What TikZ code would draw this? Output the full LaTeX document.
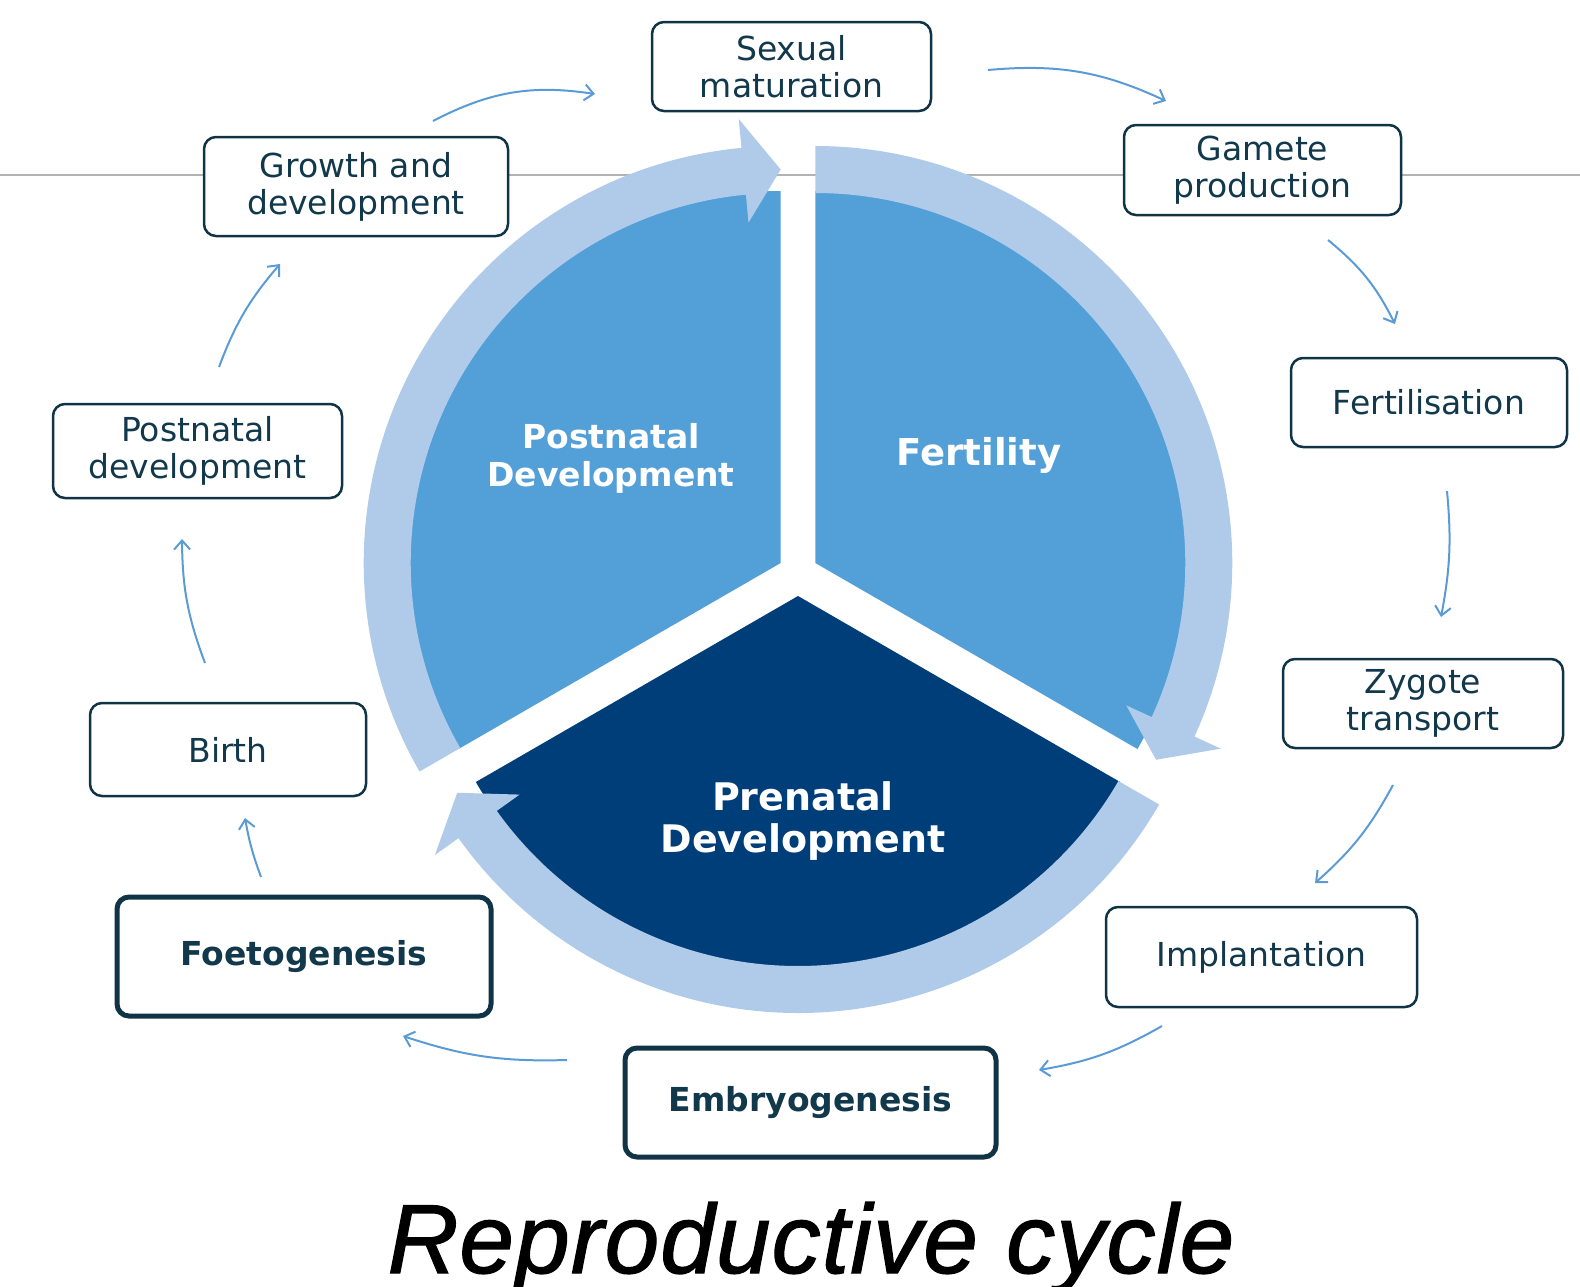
\documentclass[tikz,border=0pt]{standalone}
\usepackage{fontspec}
\setmainfont{DejaVu Sans}
\newfontfamily\titlefont[LetterSpace=1.2, ItalicFeatures={FakeBold=1.3}]{Liberation Sans}
\usetikzlibrary{arrows.meta}

\definecolor{ringblue}{RGB}{175,203,233}
\definecolor{midblue}{RGB}{83,159,215}
\definecolor{navy}{RGB}{0,62,122}
\definecolor{boxline}{RGB}{16,52,70}
\definecolor{boxtext}{RGB}{18,56,76}
\definecolor{linkblue}{RGB}{91,155,213}
\definecolor{rulegray}{RGB}{178,178,178}

% One exploded slice of the cycle: filled pie plus a curved band ending in an arrow head.
% #1 centre, #2/#3 pie angles, #4 pie colour, #5 band start, #6 head base, #7 head tip
\newcommand\cycpiece[7]{%
  \begin{scope}[shift={#1}]
    \fill[#4] (0,0) -- (#2:372) arc[start angle=#2, end angle=#3, radius=372] -- cycle;
    \fill[ringblue] (#5:417) arc[start angle=#5, end angle=#6, radius=417]
      -- (#6:446) -- (#7:393.5) -- (#6:342) -- (#6:370)
      arc[start angle=#6, end angle=#5, radius=370] -- cycle;
  \end{scope}}

\begin{document}
\begin{tikzpicture}[x=1pt, y=1pt,
  stage/.style={draw=boxline, line width=2.5pt, rounded corners=12pt, fill=white,
    text=boxtext, align=center, inner sep=0pt,
    font=\fontsize{33}{37}\selectfont},
  keystage/.style={stage, line width=5pt, font=\fontsize{33}{37}\selectfont\bfseries},
  link/.style={draw=linkblue, line width=2pt,
    -{Straight Barb[length=9pt, width=16pt, line width=2pt]}},
  sectorlabel/.style={text=white, align=center}]

\useasboundingbox (0,0) rectangle (1580,-1286);

% faint horizontal rule behind everything
\draw[rulegray, line width=1.5pt] (0,-175) -- (1580,-175);

% the three slices
\cycpiece{(780.7,-563)}{90}{210}{midblue}{210}{95.4}{90}
\cycpiece{(815.3,-563)}{-30}{90}{midblue}{90}{-24.6}{-30}
\cycpiece{(798,-596)}{210}{330}{navy}{330}{215.5}{210}

% slice captions
\node[sectorlabel, font=\bfseries\fontsize{33}{38}\selectfont] (lpost) at (611,-458) {Postnatal\\Development};
\node[sectorlabel, font=\bfseries\fontsize{37}{40}\selectfont] (lfert) at (979,-455) {Fertility};
\node[sectorlabel, font=\bfseries\fontsize{38}{42}\selectfont] (lpre) at (803,-821) {Prenatal\\Development};

% stages around the cycle
\node[stage, minimum width=279, minimum height=89] (sexual) at (791.5,-66.5) {Sexual\\maturation};
\node[stage, minimum width=277, minimum height=90] (gamete) at (1262.5,-170) {Gamete\\production};
\node[stage, minimum width=276, minimum height=89] (fertil) at (1429,-402.5) {Fertilisation};
\node[stage, minimum width=280, minimum height=89] (zygote) at (1423,-703.5) {Zygote\\transport};
\node[stage, minimum width=311, minimum height=100] (implant) at (1261.5,-957) {Implantation};
\node[keystage, minimum width=371, minimum height=109] (embryo) at (810.5,-1102.5) {Embryogenesis};
\node[keystage, minimum width=374, minimum height=119] (foeto) at (304,-956.5) {Foetogenesis};
\node[stage, minimum width=276, minimum height=93] (birth) at (228,-749.5) {Birth};
\node[stage, minimum width=289, minimum height=94] (postdev) at (197.5,-451) {Postnatal\\development};
\node[stage, minimum width=304, minimum height=99] (growth) at (356,-186.5) {Growth and\\development};

% ends of the small linking arrows
\coordinate (l1a) at (433,-121);  \coordinate (l1b) at (595,-94);
\coordinate (l2a) at (988,-70);   \coordinate (l2b) at (1166,-101);
\coordinate (l3a) at (1328,-240); \coordinate (l3b) at (1395,-324);
\coordinate (l4a) at (1447,-491); \coordinate (l4b) at (1441,-617);
\coordinate (l5a) at (1393,-785); \coordinate (l5b) at (1315,-883);
\coordinate (l6a) at (1162,-1026);\coordinate (l6b) at (1039,-1070);
\coordinate (l7a) at (567,-1060); \coordinate (l7b) at (403,-1036);
\coordinate (l8a) at (261,-877);  \coordinate (l8b) at (245,-818);
\coordinate (l9a) at (205,-663);  \coordinate (l9b) at (182,-539);
\coordinate (l10a) at (219,-367); \coordinate (l10b) at (280,-264);

\draw[link] (l1a) to[bend left=18] (l1b);
\draw[link] (l2a) to[bend left=15] (l2b);
\draw[link] (l3a) to[bend left=12] (l3b);
\draw[link] (l4a) to[bend left=8] (l4b);
\draw[link] (l5a) to[bend left=10] (l5b);
\draw[link] (l6a) to[bend left=10] (l6b);
\draw[link] (l7a) to[bend left=10] (l7b);
\draw[link] (l8a) to[bend left=5] (l8b);
\draw[link] (l9a) to[bend left=10] (l9b);
\draw[link] (l10a) to[bend left=10] (l10b);

% caption
\node[anchor=base, font=\titlefont\itshape\fontsize{98}{110}\selectfont] (title) at (811,-1273) {Reproductive cycle};
\end{tikzpicture}
\end{document}
